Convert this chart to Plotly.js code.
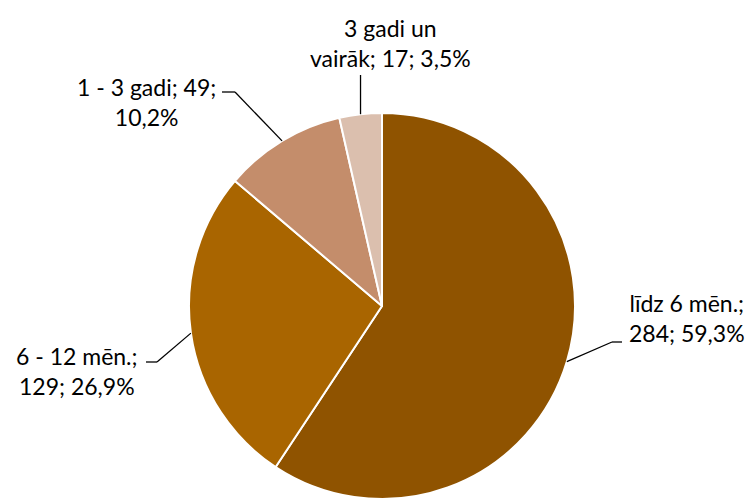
<!DOCTYPE html>
<html><head><meta charset="utf-8">
<script src="https://cdn.plot.ly/plotly-3.0.1.min.js"></script>
<style>html,body{margin:0;padding:0;background:#fff}</style>
</head><body><div id="chart" style="width:753px;height:499px"></div>
<script>
const categories = ["līdz 6 mēn.", "6 - 12 mēn.", "1 - 3 gadi", "3 gadi un vairāk"];
const counts = [284, 129, 49, 17];
const percents = ["59,3%", "26,9%", "10,2%", "3,5%"];
const labelTexts = [
  "līdz 6 mēn.;<br>284; 59,3%",
  "6 - 12 mēn.;<br>129; 26,9%",
  "1 - 3 gadi; 49;<br>10,2%",
  "3 gadi un<br>vairāk; 17; 3,5%"
];
const colors = ["#8F5300", "#A96500", "#C48D6B", "#DBBFAE"];

const W = 753, H = 499;
const cx = 382, cy = 306, R = 193;
// label anchor (px) and leader elbow settings
const labelPos = [
  {x: 687, y: 318, elbow: [[612, 342], [622, 342]]},
  {x: 77,  y: 371, elbow: [[157, 362], [146, 362]]},
  {x: 146, y: 102, elbow: [[235, 92], [222, 92]]},
  {x: 390, y: 43,  elbow: [[null, 75]]}
];

const total = counts.reduce((a, b) => a + b, 0);
const px = x => x / W, py = y => 1 - y / H;
const shapes = [];
const annotations = [];
let cum = 0;
counts.forEach((v, i) => {
  const mid = (cum + v / 2) / total * 2 * Math.PI;
  cum += v;
  const sx = cx + R * Math.sin(mid), sy = cy - R * Math.cos(mid);
  const pts = [[sx, sy]];
  labelPos[i].elbow.forEach(p => pts.push([p[0] === null ? sx : p[0], p[1]]));
  for (let k = 0; k < pts.length - 1; k++) {
    shapes.push({type: 'line', xref: 'paper', yref: 'paper',
      x0: px(pts[k][0]), y0: py(pts[k][1]), x1: px(pts[k + 1][0]), y1: py(pts[k + 1][1]),
      line: {color: '#000', width: 1.3}});
  }
  annotations.push({text: labelTexts[i], xref: 'paper', yref: 'paper',
    x: px(labelPos[i].x), y: py(labelPos[i].y), xanchor: 'center', yanchor: 'middle',
    showarrow: false, align: 'center',
    font: {family: 'Lato, "Open Sans", sans-serif', size: 23, color: '#000'}});
});

const trace = {
  type: 'pie', values: counts, labels: categories, sort: false,
  direction: 'clockwise', rotation: 0, textinfo: 'none', hoverinfo: 'label+value+percent',
  marker: {colors: colors, line: {color: '#fff', width: 2}},
  domain: {x: [(cx - R) / W, (cx + R) / W], y: [1 - (cy + R) / H, 1 - (cy - R) / H]},
  showlegend: false
};
Plotly.newPlot('chart', [trace], {
  width: W, height: H, margin: {l: 0, r: 0, t: 0, b: 0},
  paper_bgcolor: '#fff', separators: ', ',
  shapes: shapes, annotations: annotations
}, {displayModeBar: false, staticPlot: true});
</script></body></html>
